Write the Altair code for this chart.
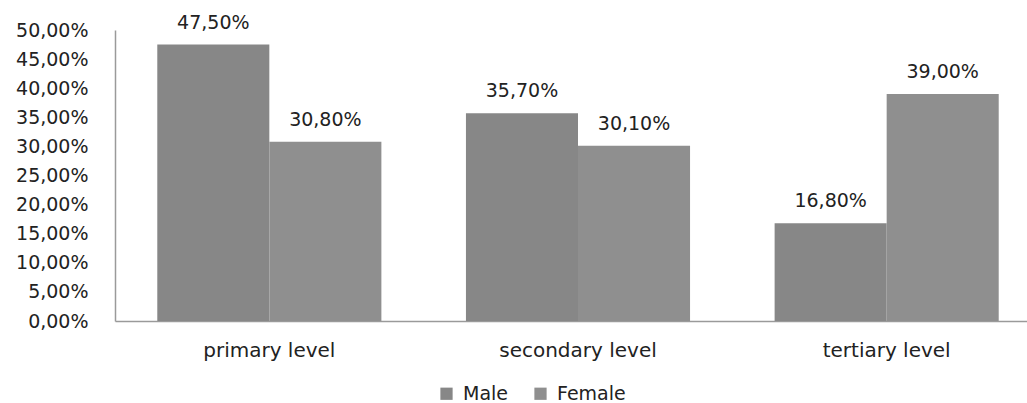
import altair as alt
import pandas as pd

levels = ["primary level", "secondary level", "tertiary level"]
male = [0.475, 0.357, 0.168]
female = [0.308, 0.301, 0.390]
series = ["Male", "Female"]
colors = ["#878787", "#8f8f8f"]

rows = []
for i, lv in enumerate(levels):
    rows.append({"level": lv, "sex": "Male", "value": male[i]})
    rows.append({"level": lv, "sex": "Female", "value": female[i]})
df = pd.DataFrame(rows)

FONT = "DejaVu Sans"
TXT = "#222222"

x = alt.X("level:N", sort=levels, title=None,
          scale=alt.Scale(paddingInner=0.274, paddingOuter=0.137, range=[0, 926]),
          axis=alt.Axis(labelAngle=0, labelFontSize=20, labelFont=FONT, labelColor=TXT,
                        labelPadding=19, ticks=False, domainColor="#9a9a9a", domainWidth=1.5))
xo = alt.XOffset("sex:N", sort=series, scale=alt.Scale(paddingInner=0, paddingOuter=0))
y = alt.Y("value:Q", title=None,
          scale=alt.Scale(domain=[0, 0.5], nice=False),
          axis=alt.Axis(values=[i * 0.05 for i in range(11)], grid=False, ticks=False,
                        labelExpr="replace(format(datum.value, '.2%'), '.', ',')",
                        labelFontSize=19, labelFont=FONT, labelColor=TXT, labelPadding=27,
                        domainColor="#9a9a9a", domainWidth=1.5))

base = alt.Chart(df)
bars = base.mark_bar().encode(
    x=x, xOffset=xo, y=y,
    color=alt.Color("sex:N", sort=series, title=None,
                    scale=alt.Scale(domain=series, range=colors),
                    legend=alt.Legend(orient="none", direction="horizontal", legendX=322, legendY=354,
                                      symbolType="square", symbolSize=150, symbolStrokeWidth=0,
                                      labelFontSize=19, labelFont=FONT, labelColor=TXT,
                                      columnPadding=22, labelOffset=7))
)
labels = base.transform_calculate(
    lab="replace(format(datum.value, '.2%'), '.', ',')"
).mark_text(baseline="bottom", dy=-12, fontSize=19, font=FONT, color=TXT).encode(
    x=x, xOffset=xo, y=y, text="lab:N"
)

chart = alt.layer(bars, labels).properties(
    width=905, height=291,
    padding={"left": 115, "top": 30, "right": 7, "bottom": 82},
    autosize=alt.AutoSizeParams(type="none"),
    background="white",
).configure_view(stroke=None)

chart.save("out.html", embed_options={"renderer": "svg", "actions": False})
